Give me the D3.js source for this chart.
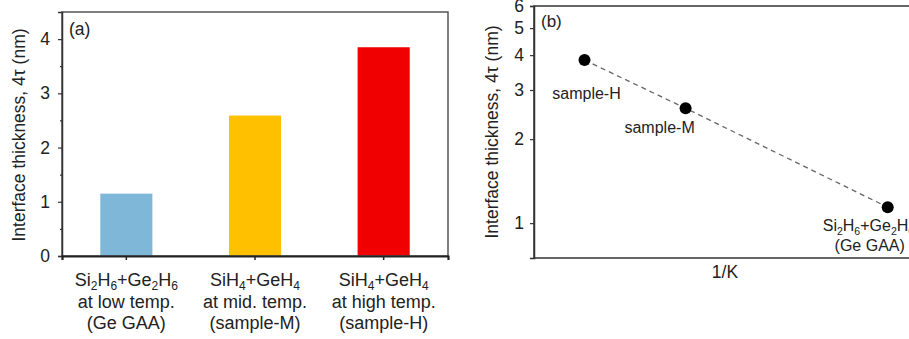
<!DOCTYPE html>
<html><head><meta charset="utf-8">
<script src="https://cdn.jsdelivr.net/npm/d3@7"></script>
<style>
body{margin:0;background:#fff;}
svg text{font-family:"Liberation Sans",Arial,sans-serif;fill:#222;}
</style></head>
<body>
<svg id="c" width="909" height="339"></svg>
<script>
// Panel (a) data
const categories = ["Ge GAA", "sample-M", "sample-H"];
const barLabels = [
  [["Si",""],["2","sub"],["H",""],["6","sub"],["+Ge",""],["2","sub"],["H",""],["6","sub"]],
  [["SiH",""],["4","sub"],["+GeH",""],["4","sub"]],
  [["SiH",""],["4","sub"],["+GeH",""],["4","sub"]]
];
const barLine2 = ["at low temp.", "at mid. temp.", "at high temp."];
const barLine3 = ["(Ge GAA)", "(sample-M)", "(sample-H)"];
const barValues = [1.15, 2.59, 3.85];
const barColors = ["#7fb7d9", "#ffc000", "#f00000"];
const yTicksA = [0, 1, 2, 3, 4];
const yMinorA = [0.5, 1.5, 2.5, 3.5, 4.5];

// Panel (b) data
const pointNames = ["sample-H", "sample-M", "Ge GAA"];
const invK = [1, 2, 4];             // relative 1/K positions (no tick values shown)
const pointValues = [3.84, 2.58, 1.14];
const yTicksB = [1, 2, 3, 4, 5, 6];

const svg = d3.select("#c");
const axisColor = "#333";

// ---------- Panel (a) ----------
const A = {l:62, r:448, t:12, b:256};
const xa = d3.scaleBand().domain(categories).range([A.l, A.r]).paddingInner(0.595).paddingOuter(0.2975);
const ya = d3.scaleLinear().domain([0, 4.5]).range([A.b, A.t]);
const ga = svg.append("g");

ga.selectAll("rect.bar").data(barValues).join("rect")
  .attr("x", (d,i)=>xa(categories[i])).attr("width", xa.bandwidth())
  .attr("y", d=>ya(d)).attr("height", d=>ya(0)-ya(d))
  .attr("fill", (d,i)=>barColors[i]);

// frame
ga.append("rect").attr("x",A.l).attr("y",A.t).attr("width",A.r-A.l).attr("height",A.b-A.t)
  .attr("fill","none").attr("stroke","#555").attr("stroke-width",1.5);

const yAxA = ga.append("g").attr("transform",`translate(${A.l},0)`)
  .call(d3.axisLeft(ya).tickValues(yTicksA).tickSize(4).tickPadding(8).tickFormat(d3.format("d")));
yAxA.select(".domain").attr("stroke",axisColor).attr("stroke-width",1.5);
yAxA.selectAll(".tick line").attr("stroke",axisColor).attr("stroke-width",1.2);
yAxA.selectAll(".tick text").attr("font-size",17.5).attr("fill","#222");
ga.append("g").attr("transform",`translate(${A.l},0)`)
  .call(d3.axisLeft(ya).tickValues(yMinorA).tickSize(2).tickFormat(""))
  .call(g=>{g.select(".domain").remove(); g.selectAll(".tick line").attr("stroke",axisColor).attr("stroke-width",1.2);});

const xAxA = ga.append("g").attr("transform",`translate(0,${A.b})`)
  .call(d3.axisBottom(xa).tickSize(4).tickFormat(""));
xAxA.select(".domain").attr("stroke","#222").attr("stroke-width",2.2);
xAxA.selectAll(".tick line").attr("stroke","#222").attr("stroke-width",1.5);

const LF = 18;
categories.forEach((c,i)=>{
  const cx = xa(c)+xa.bandwidth()/2;
  const t1 = ga.append("text").attr("x",cx).attr("y",286).attr("text-anchor","middle").attr("font-size",LF);
  barLabels[i].forEach(([s,k],j,arr)=>{
    const ts = t1.append("tspan").text(s);
    if(k==="sub") ts.attr("font-size",12).attr("dy",4);
    else if(j>0 && arr[j-1][1]==="sub") ts.attr("dy",-4);
  });
  ga.append("text").attr("x",cx).attr("y",308).attr("text-anchor","middle").attr("font-size",LF).text(barLine2[i]);
  ga.append("text").attr("x",cx).attr("y",329).attr("text-anchor","middle").attr("font-size",LF).text(barLine3[i]);
});

ga.append("text").attr("transform",`translate(25,${(A.t+A.b)/2 + 1}) rotate(-90)`)
  .attr("text-anchor","middle").attr("font-size",17.5).text("Interface thickness, 4τ (nm)");
ga.append("text").attr("x",69).attr("y",35).attr("font-size",17.5).text("(a)");

// ---------- Panel (b) ----------
const B = {l:534, r:915, t:6, b:258};
const xb = d3.scaleLinear().domain([0.5, 4.27]).range([B.l, B.r]);
const yb = d3.scaleLog().domain([0.75, 6]).range([B.b, B.t]);
const gb = svg.append("g");

gb.append("rect").attr("x",B.l).attr("y",B.t).attr("width",B.r-B.l).attr("height",B.b-B.t)
  .attr("fill","none").attr("stroke","#333").attr("stroke-width",1.5);

const yAxB = gb.append("g").attr("transform",`translate(${B.l},0)`)
  .call(d3.axisLeft(yb).tickValues(yTicksB).tickSize(4).tickPadding(6).tickFormat(d3.format("d")));
yAxB.select(".domain").attr("stroke",axisColor).attr("stroke-width",1.5);
yAxB.selectAll(".tick line").attr("stroke",axisColor).attr("stroke-width",1.2);
yAxB.selectAll(".tick text").attr("font-size",17.5).attr("fill","#222");

const line = d3.line().x((d,i)=>xb(invK[i])).y(d=>yb(d));
gb.append("path").datum(pointValues).attr("d",line).attr("fill","none")
  .attr("stroke","#666").attr("stroke-width",1.3).attr("stroke-dasharray","5,4");
gb.selectAll("circle").data(pointValues).join("circle")
  .attr("cx",(d,i)=>xb(invK[i])).attr("cy",d=>yb(d)).attr("r",6).attr("fill","#000");

gb.append("text").attr("x",xb(invK[0])+2).attr("y",yb(pointValues[0])+39).attr("text-anchor","middle").attr("font-size",16).text(pointNames[0]);
gb.append("text").attr("x",xb(invK[1])-26).attr("y",yb(pointValues[1])+25).attr("text-anchor","middle").attr("font-size",16).text(pointNames[1]);
const gl = gb.append("text").attr("x",xb(invK[2])-65).attr("y",yb(pointValues[2])+24).attr("font-size",16);
[["Si",""],["2","sub"],["H",""],["6","sub"],["+Ge",""],["2","sub"],["H",""],["6","sub"]].forEach(([s,k],j,arr)=>{
  const ts = gl.append("tspan").text(s);
  if(k==="sub") ts.attr("font-size",10.5).attr("dy",4);
  else if(j>0 && arr[j-1][1]==="sub") ts.attr("dy",-4);
});
gb.append("text").attr("x",xb(invK[2])-18).attr("y",yb(pointValues[2])+44).attr("text-anchor","middle").attr("font-size",16).text("(Ge GAA)");

gb.append("text").attr("transform",`translate(498,${(B.t+B.b)/2}) rotate(-90)`)
  .attr("text-anchor","middle").attr("font-size",17.5).text("Interface thickness, 4τ (nm)");
gb.append("text").attr("x",541).attr("y",27).attr("font-size",17).text("(b)");
gb.append("text").attr("x",725).attr("y",278).attr("text-anchor","middle").attr("font-size",17.5).text("1/K");
</script>
</body></html>
